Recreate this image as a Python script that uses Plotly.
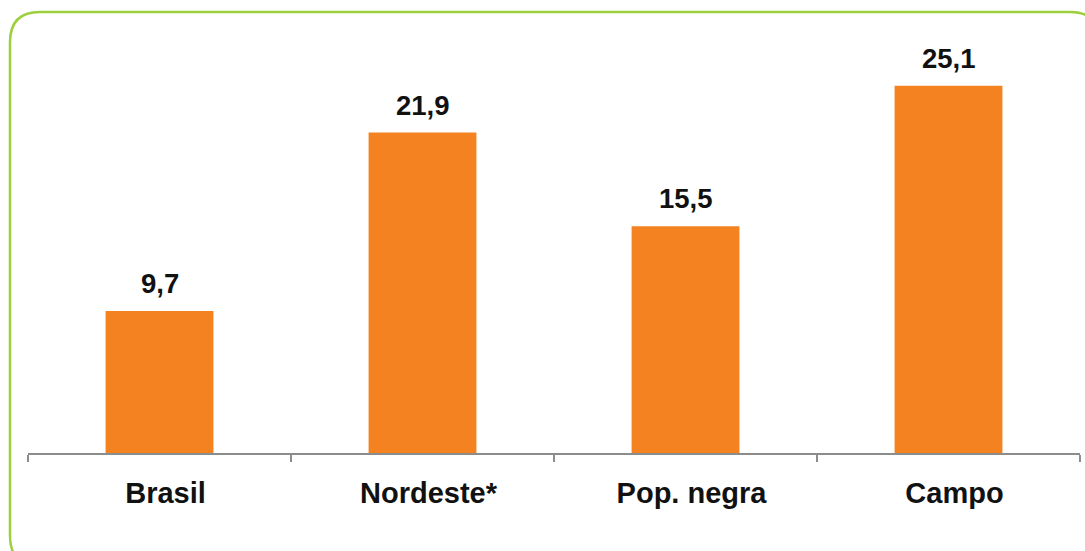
import plotly.graph_objects as go

# Share of population (%) by group
categories = ["Brasil", "Nordeste*", "Pop. negra", "Campo"]
values = [9.7, 21.9, 15.5, 25.1]
value_labels = ["9,7", "21,9", "15,5", "25,1"]

W, H = 1085, 551
ML, MR, MT, MB = 28, 5, 14, 98
FONT = "Liberation Sans, Arial"

fig = go.Figure(
    go.Bar(
        x=categories,
        y=values,
        marker=dict(color="#F58220", line=dict(width=0)),
        hoverinfo="skip",
    )
)

# Value labels above each bar
for c, v, t in zip(categories, values, value_labels):
    fig.add_annotation(
        x=c, y=v, text=f"<b>{t}</b>", showarrow=False,
        yanchor="bottom", yshift=10,
        font=dict(family=FONT, size=27.5, color="#111111"),
    )

# Rounded green frame drawn in pixel terms, converted to paper coordinates
pw, ph = W - ML - MR, H - MT - MB


def px(x):
    return (x - ML) / pw


def py(y):
    return (H - MB - y) / ph


L, T, R, B, r = 10, 12, 1100, 566, 30
path = (
    f"M {px(L + r)},{py(T)} L {px(R - r)},{py(T)} "
    f"Q {px(R)},{py(T)} {px(R)},{py(T + r)} "
    f"L {px(R)},{py(B - r)} Q {px(R)},{py(B)} {px(R - r)},{py(B)} "
    f"L {px(L + r)},{py(B)} Q {px(L)},{py(B)} {px(L)},{py(B - r)} "
    f"L {px(L)},{py(T + r)} Q {px(L)},{py(T)} {px(L + r)},{py(T)} Z"
)

fig.update_layout(
    width=W,
    height=H,
    margin=dict(l=ML, r=MR, t=MT, b=MB),
    paper_bgcolor="white",
    plot_bgcolor="white",
    bargap=0.59,
    showlegend=False,
    font=dict(family=FONT, color="#111111"),
    shapes=[
        dict(
            type="path",
            path=path,
            xref="paper",
            yref="paper",
            line=dict(color="#9DCF3C", width=2.5),
            layer="below",
        )
    ],
    xaxis=dict(
        showline=True,
        linecolor="#8C8C8C",
        linewidth=1.5,
        ticks="outside",
        tickson="boundaries",
        ticklen=7,
        tickcolor="#8C8C8C",
        tickwidth=1.5,
        showgrid=False,
        tickfont=dict(family=FONT, size=29, color="#111111"),
        tickvals=categories,
        ticktext=[f"<b>{c}</b>" for c in categories],
        ticklabelstandoff=13,
        ticklabelshift=6,
    ),
    yaxis=dict(range=[0, 30], visible=False, showgrid=False),
)

fig.write_html("out.html")
